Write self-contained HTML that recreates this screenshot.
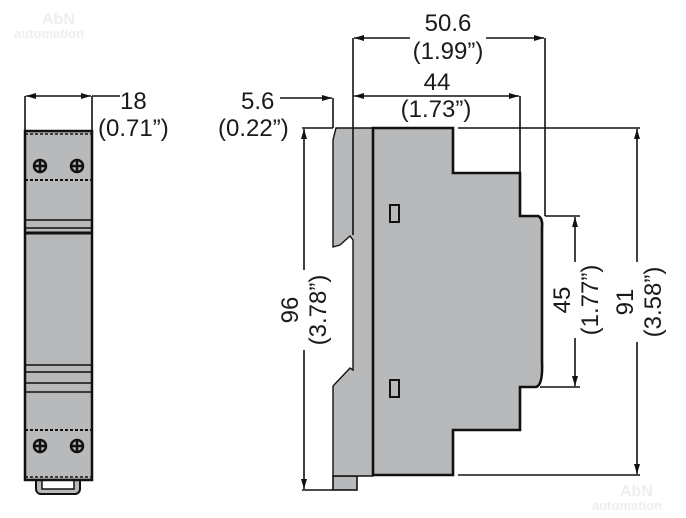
<!DOCTYPE html>
<html><head><meta charset="utf-8"><style>
html,body{margin:0;padding:0;background:#fff;width:686px;height:518px;overflow:hidden}
svg text{font-family:"Liberation Sans",sans-serif;font-size:24px;fill:#1a1a1a}
</style></head><body>
<svg width="686" height="518" viewBox="0 0 686 518" xmlns="http://www.w3.org/2000/svg">
<defs>
<marker id="a" viewBox="0 0 10 6" refX="10" refY="3" markerWidth="12" markerHeight="6" orient="auto-start-reverse" markerUnits="userSpaceOnUse"><path d="M0,0 L10,3 L0,6 z" fill="#111"/></marker>
</defs>
<text x="42" y="24" style="font-size:16px;font-weight:bold;fill:#eeeeee">AbN</text>
<text x="14" y="38" style="font-size:13px;font-weight:bold;fill:#eeeeee">automation</text>
<text x="620" y="496" style="font-size:16px;font-weight:bold;fill:#eeeeee">AbN</text>
<text x="592" y="510" style="font-size:13px;font-weight:bold;fill:#eeeeee">automation</text>

<g stroke="#111" stroke-width="1.6" fill="none">
<rect x="36" y="476" width="44" height="18" rx="5" fill="#b8b9bb" stroke-width="2"/>
<rect x="42" y="480" width="32" height="9" fill="#fff" stroke-width="1.5"/>
<rect x="25" y="131" width="67" height="349" fill="#b8b9bb" stroke-width="2.5"/>
<line x1="25" y1="180" x2="92" y2="180" stroke-dasharray="3,2" stroke-width="2"/>
<line x1="25" y1="220" x2="92" y2="220"/>
<line x1="25" y1="228" x2="92" y2="228"/>
<line x1="25" y1="233" x2="92" y2="233" stroke-width="3"/>
<line x1="25" y1="365" x2="92" y2="365"/>
<line x1="25" y1="372" x2="92" y2="372"/>
<line x1="25" y1="383" x2="92" y2="383"/>
<line x1="25" y1="392" x2="92" y2="392"/>
<line x1="25" y1="430" x2="92" y2="430" stroke-dasharray="3,2" stroke-width="2"/>
<line x1="25" y1="134" x2="92" y2="134" stroke-dasharray="3,2" stroke-width="1.5"/>
<line x1="25" y1="477" x2="92" y2="477" stroke-dasharray="3,2" stroke-width="1.5"/>
<g stroke-width="2.5">
<circle cx="40" cy="166" r="6"/><path d="M34 166h12M40 160v12"/>
<circle cx="77" cy="166" r="6"/><path d="M71 166h12M77 160v12"/>
<circle cx="40" cy="446" r="6"/><path d="M34 446h12M40 440v12"/>
<circle cx="77" cy="446" r="6"/><path d="M71 446h12M77 440v12"/>
</g>
<line x1="25" y1="96" x2="25" y2="130"/>
<line x1="92" y1="96" x2="92" y2="130"/>
<line x1="92" y1="96" x2="120" y2="96"/>
<line x1="26" y1="96" x2="91" y2="96" marker-start="url(#a)" marker-end="url(#a)"/>

<rect x="333" y="476" width="24" height="14" fill="#b8b9bb"/>
<path d="M336,128 L373,128 L373,476 L333,476 L333,386 L350,368 L353,370 L353,240 L350,236 L340,245 L333,247 L333,140 Z" fill="#b8b9bb" stroke-width="1.4"/>
<path d="M373,128 L453,128 L453,173 L520,173 L520,216 L538,216 Q543,218 542,228 L542,362 Q543,385 536,387 L520,387 L520,430 L453,430 L453,475 L373,475 Z" fill="#b8b9bb" stroke-width="2.6"/>
<rect x="390" y="205" width="9" height="17" stroke-width="2"/>
<rect x="390" y="380" width="9" height="17" stroke-width="2"/>

<line x1="353" y1="38" x2="353" y2="235"/>
<line x1="545" y1="38" x2="545" y2="216"/>
<line x1="520" y1="96" x2="520" y2="173"/>
<line x1="354" y1="38" x2="410" y2="38" marker-start="url(#a)"/>
<line x1="486" y1="38" x2="544" y2="38" marker-end="url(#a)"/>
<line x1="354" y1="96" x2="519" y2="96" marker-start="url(#a)" marker-end="url(#a)"/>
<line x1="280" y1="98" x2="332" y2="98" marker-end="url(#a)"/>
<line x1="333" y1="98" x2="333" y2="128"/>
<line x1="302" y1="128" x2="333" y2="128"/>
<line x1="302" y1="490" x2="333" y2="490"/>
<line x1="304" y1="129" x2="304" y2="270" marker-start="url(#a)"/>
<line x1="304" y1="350" x2="304" y2="489" marker-end="url(#a)"/>
<line x1="458" y1="128" x2="640" y2="128"/>
<line x1="458" y1="475" x2="640" y2="475"/>
<line x1="637" y1="129" x2="637" y2="262" marker-start="url(#a)"/>
<line x1="637" y1="342" x2="637" y2="474" marker-end="url(#a)"/>
<line x1="545" y1="216" x2="580" y2="216"/>
<line x1="540" y1="387" x2="580" y2="387"/>
<line x1="575" y1="217" x2="575" y2="262" marker-start="url(#a)"/>
<line x1="575" y1="338" x2="575" y2="386" marker-end="url(#a)"/>
</g>

<text x="120" y="109">18</text>
<text x="98" y="136">(0.71”)</text>
<text x="241" y="109">5.6</text>
<text x="218" y="136">(0.22”)</text>
<text x="448" y="31" text-anchor="middle">50.6</text>
<text x="448" y="59" text-anchor="middle">(1.99”)</text>
<text x="437" y="90" text-anchor="middle">44</text>
<text x="436" y="117" text-anchor="middle">(1.73”)</text>
<g transform="translate(298,310) rotate(-90)"><text x="0" y="0" text-anchor="middle">96</text></g>
<g transform="translate(326,310) rotate(-90)"><text x="0" y="0" text-anchor="middle">(3.78”)</text></g>
<g transform="translate(570,300) rotate(-90)"><text x="0" y="0" text-anchor="middle">45</text></g>
<g transform="translate(598,300) rotate(-90)"><text x="0" y="0" text-anchor="middle">(1.77”)</text></g>
<g transform="translate(633,302) rotate(-90)"><text x="0" y="0" text-anchor="middle">91</text></g>
<g transform="translate(661,302) rotate(-90)"><text x="0" y="0" text-anchor="middle">(3.58”)</text></g>
</svg>
</body></html>
